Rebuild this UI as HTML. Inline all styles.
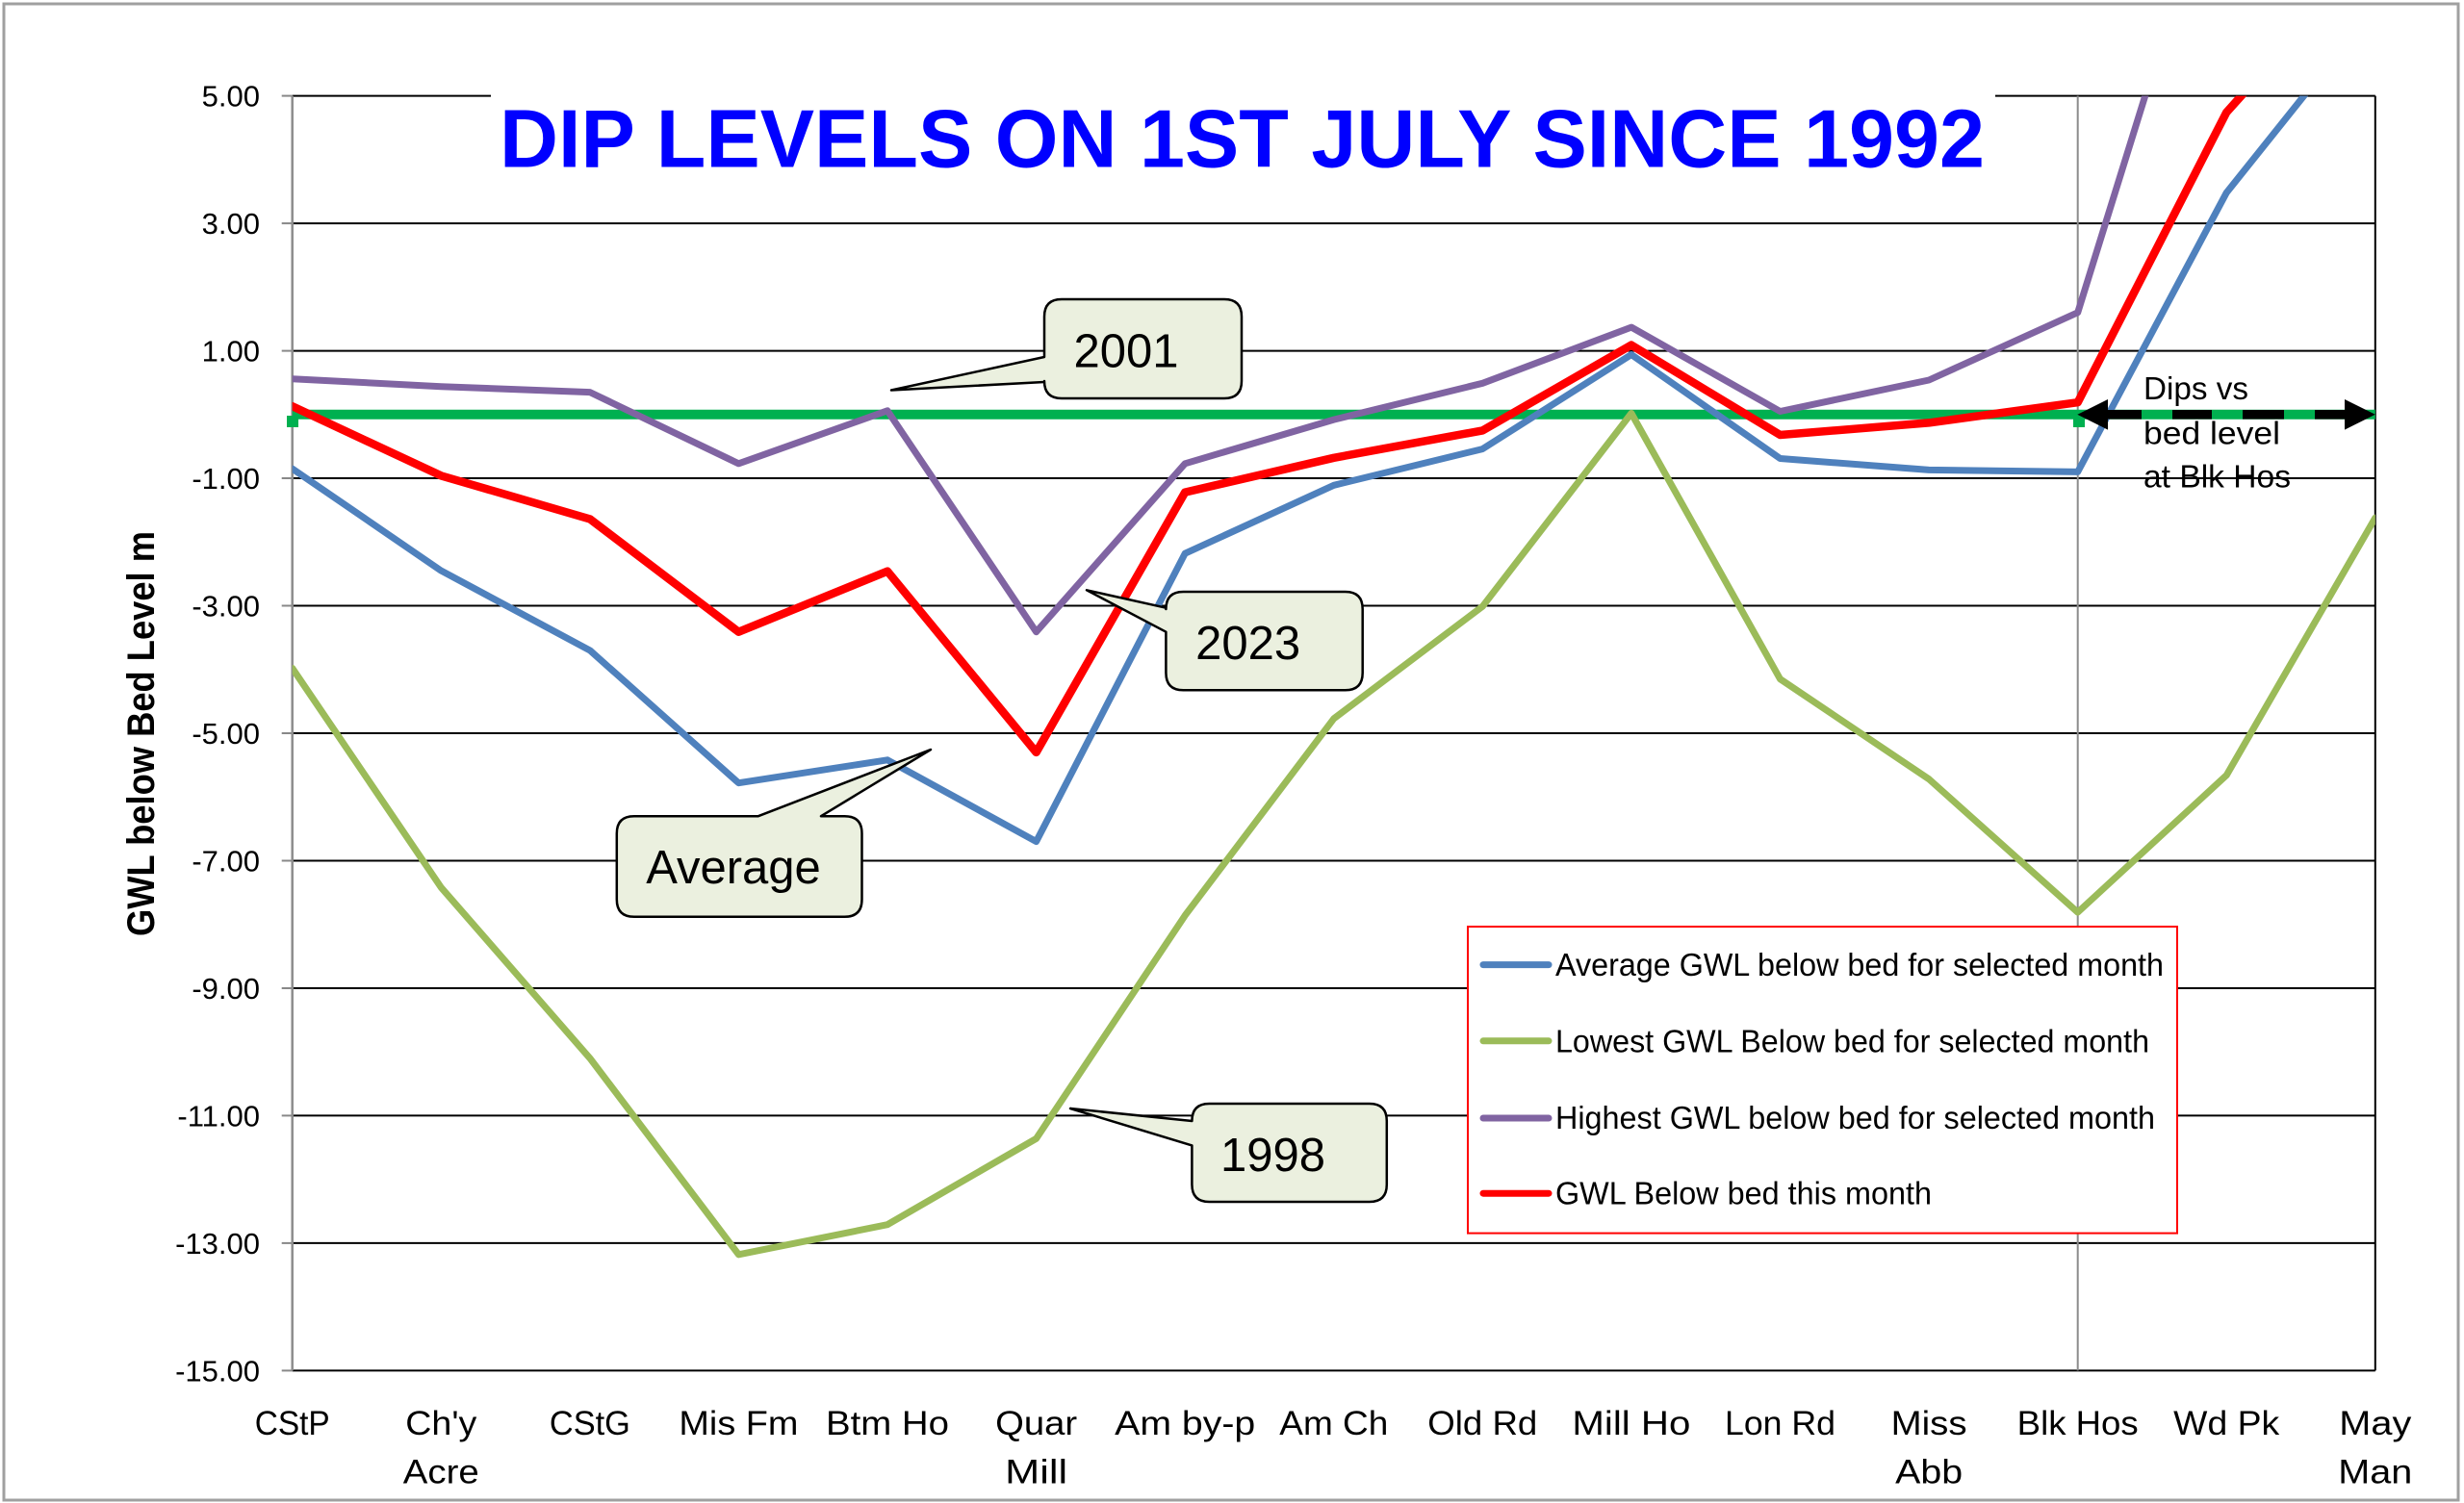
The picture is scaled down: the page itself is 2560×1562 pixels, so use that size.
<!DOCTYPE html>
<html>
<head>
<meta charset="utf-8">
<style>
html,body{margin:0;padding:0;background:#fff;}
svg{display:block;}
text{font-family:"Liberation Sans",Arial,sans-serif;}
</style>
</head>
<body>
<svg width="2560" height="1562" viewBox="0 0 2560 1562" xmlns="http://www.w3.org/2000/svg">
<defs>
<clipPath id="plot"><rect x="303.7" y="99.6" width="2164.1" height="1324.8"/></clipPath>
</defs>
<rect x="0" y="0" width="2560" height="1562" fill="#fff"/>
<rect x="4" y="4" width="2550" height="1555" fill="none" stroke="#a0a0a0" stroke-width="3"/>

<!-- gridlines -->
<g stroke="#000" stroke-width="2">
<line x1="303.7" y1="99.6" x2="2467.8" y2="99.6"/>
<line x1="303.7" y1="232.1" x2="2467.8" y2="232.1"/>
<line x1="303.7" y1="364.6" x2="2467.8" y2="364.6"/>
<line x1="303.7" y1="497.0" x2="2467.8" y2="497.0"/>
<line x1="303.7" y1="629.5" x2="2467.8" y2="629.5"/>
<line x1="303.7" y1="762.0" x2="2467.8" y2="762.0"/>
<line x1="303.7" y1="894.5" x2="2467.8" y2="894.5"/>
<line x1="303.7" y1="1027.0" x2="2467.8" y2="1027.0"/>
<line x1="303.7" y1="1159.4" x2="2467.8" y2="1159.4"/>
<line x1="303.7" y1="1291.9" x2="2467.8" y2="1291.9"/>
<line x1="303.7" y1="1424.4" x2="2467.8" y2="1424.4"/>
<line x1="2467.8" y1="99.6" x2="2467.8" y2="1424.4"/>
</g>
<!-- ticks -->
<g stroke="#888" stroke-width="2">
<line x1="292.7" y1="99.6" x2="303.7" y2="99.6"/>
<line x1="292.7" y1="232.1" x2="303.7" y2="232.1"/>
<line x1="292.7" y1="364.6" x2="303.7" y2="364.6"/>
<line x1="292.7" y1="497.0" x2="303.7" y2="497.0"/>
<line x1="292.7" y1="629.5" x2="303.7" y2="629.5"/>
<line x1="292.7" y1="762.0" x2="303.7" y2="762.0"/>
<line x1="292.7" y1="894.5" x2="303.7" y2="894.5"/>
<line x1="292.7" y1="1027.0" x2="303.7" y2="1027.0"/>
<line x1="292.7" y1="1159.4" x2="303.7" y2="1159.4"/>
<line x1="292.7" y1="1291.9" x2="303.7" y2="1291.9"/>
<line x1="292.7" y1="1424.4" x2="303.7" y2="1424.4"/>
</g>
<line x1="2158.7" y1="99.6" x2="2158.7" y2="1424.4" stroke="#8c8c8c" stroke-width="2"/>
<line x1="303.7" y1="99.6" x2="303.7" y2="1424.4" stroke="#8c8c8c" stroke-width="2.5"/>

<!-- bed level line -->
<line x1="303.7" y1="430.8" x2="2467.8" y2="430.8" stroke="#00B050" stroke-width="10"/>

<g clip-path="url(#plot)" fill="none" stroke-linejoin="round" stroke-linecap="round">
<polyline stroke="#4F81BD" stroke-width="7" points="303.7,487.1 458.3,593.1 612.9,675.9 767.4,813.7 922.0,789.8 1076.6,874.6 1231.2,575.2 1385.8,504.3 1540.3,466.6 1694.9,368.5 1849.5,476.5 2004.1,488.4 2158.7,490.4 2313.2,200.3 2467.8,6.9"/>
<polyline stroke="#9BBB59" stroke-width="7" points="303.7,694.4 458.3,922.3 612.9,1099.8 767.4,1303.8 922.0,1272.7 1076.6,1183.3 1231.2,951.4 1385.8,746.8 1540.3,630.2 1694.9,429.5 1849.5,705.7 2004.1,809.7 2158.7,948.1 2313.2,805.7 2467.8,538.1"/>
<polyline stroke="#8064A2" stroke-width="7" points="303.7,393.7 458.3,401.7 612.9,407.6 767.4,481.8 922.0,426.8 1076.6,656.7 1231.2,481.8 1385.8,436.1 1540.3,398.3 1694.9,340.1 1849.5,427.5 2004.1,395.0 2158.7,324.8 2313.2,-172.0 2467.8,-364.1"/>
<polyline stroke="#FF0000" stroke-width="8.5" points="303.7,422.2 458.3,494.4 612.9,539.4 767.4,656.7 922.0,593.7 1076.6,781.9 1231.2,511.6 1385.8,475.8 1540.3,447.4 1694.9,358.6 1849.5,452.0 2004.1,439.4 2158.7,418.2 2313.2,116.8 2467.8,-55.4"/>
</g>

<!-- markers -->
<rect x="298" y="432" width="12" height="12" fill="#00B050"/>
<rect x="2154" y="432" width="12" height="12" fill="#00B050"/>

<!-- arrow -->
<g fill="#000">
<rect x="2189" y="426" width="36" height="9.6"/>
<rect x="2257" y="426" width="41" height="9.6"/>
<rect x="2330" y="426" width="43" height="9.6"/>
<rect x="2405" y="426" width="33" height="9.6"/>
<polygon points="2158.3,430.8 2190,415 2190,446.6"/>
<polygon points="2467.8,430.8 2436,415 2436,446.6"/>
</g>

<!-- title -->
<rect x="510" y="84" width="1563" height="115" fill="#fff"/>
<text x="519" y="173.3" font-size="85" font-weight="bold" fill="#0000FF" textLength="1543" lengthAdjust="spacingAndGlyphs">DIP LEVELS ON 1ST JULY SINCE 1992</text>

<!-- y tick labels -->
<g font-size="31" text-anchor="end" fill="#000">
<text x="270" y="110.6">5.00</text>
<text x="270" y="243.1">3.00</text>
<text x="270" y="375.6">1.00</text>
<text x="270" y="508.0">-1.00</text>
<text x="270" y="640.5">-3.00</text>
<text x="270" y="773.0">-5.00</text>
<text x="270" y="905.5">-7.00</text>
<text x="270" y="1038.0">-9.00</text>
<text x="270" y="1170.4">-11.00</text>
<text x="270" y="1302.9">-13.00</text>
<text x="270" y="1435.4">-15.00</text>
</g>

<!-- y axis title -->
<text transform="translate(160,762.5) rotate(-90)" text-anchor="middle" font-size="40" font-weight="bold" fill="#000" textLength="421" lengthAdjust="spacingAndGlyphs">GWL below Bed Level m</text>

<!-- x labels -->
<g font-size="35" text-anchor="middle" fill="#000">
<text x="303.7" y="1490.8" textLength="78" lengthAdjust="spacingAndGlyphs">CStP</text>
<text x="458.3" y="1490.8" textLength="74" lengthAdjust="spacingAndGlyphs">Ch'y</text>
<text x="458.3" y="1541.6" textLength="79" lengthAdjust="spacingAndGlyphs">Acre</text>
<text x="612.9" y="1490.8" textLength="84" lengthAdjust="spacingAndGlyphs">CStG</text>
<text x="767.4" y="1490.8" textLength="124" lengthAdjust="spacingAndGlyphs">Mis Fm</text>
<text x="922.0" y="1490.8" textLength="128" lengthAdjust="spacingAndGlyphs">Btm Ho</text>
<text x="1076.6" y="1490.8" textLength="85" lengthAdjust="spacingAndGlyphs">Quar</text>
<text x="1076.6" y="1541.6" textLength="65" lengthAdjust="spacingAndGlyphs">Mill</text>
<text x="1231.2" y="1490.8" textLength="146" lengthAdjust="spacingAndGlyphs">Am by-p</text>
<text x="1385.8" y="1490.8" textLength="113" lengthAdjust="spacingAndGlyphs">Am Ch</text>
<text x="1540.3" y="1490.8" textLength="114" lengthAdjust="spacingAndGlyphs">Old Rd</text>
<text x="1694.9" y="1490.8" textLength="123" lengthAdjust="spacingAndGlyphs">Mill Ho</text>
<text x="1849.5" y="1490.8" textLength="115" lengthAdjust="spacingAndGlyphs">Lon Rd</text>
<text x="2004.1" y="1490.8" textLength="79" lengthAdjust="spacingAndGlyphs">Miss</text>
<text x="2004.1" y="1541.6" textLength="70" lengthAdjust="spacingAndGlyphs">Abb</text>
<text x="2158.7" y="1490.8" textLength="126" lengthAdjust="spacingAndGlyphs">Blk Hos</text>
<text x="2313.2" y="1490.8" textLength="110" lengthAdjust="spacingAndGlyphs">Wd Pk</text>
<text x="2467.8" y="1490.8" textLength="75" lengthAdjust="spacingAndGlyphs">May</text>
<text x="2467.8" y="1541.6" textLength="77" lengthAdjust="spacingAndGlyphs">Man</text>
</g>

<!-- Dips text -->
<g font-size="33" fill="#000">
<text x="2227" y="415" textLength="109" lengthAdjust="spacingAndGlyphs">Dips vs</text>
<text x="2227" y="461.7" textLength="142" lengthAdjust="spacingAndGlyphs">bed level</text>
<text x="2227" y="506.7" textLength="153" lengthAdjust="spacingAndGlyphs">at Blk Hos</text>
</g>

<!-- callouts -->
<g fill="#EBF0DF" stroke="#000" stroke-width="2.5" stroke-linejoin="round">
<path d="M1103,311 H1272 Q1290,311 1290,329 V396 Q1290,414 1272,414 H1103 Q1085,414 1085,396 V397 L926,405.5 L1085,371 V329 Q1085,311 1103,311 Z"/>
<path d="M1229.4,615 H1397.7 Q1415.7,615 1415.7,633 V699.3 Q1415.7,717.3 1397.7,717.3 H1229.4 Q1211.4,717.3 1211.4,699.3 V656.7 L1129,613.3 L1211.4,631.7 V633 Q1211.4,615 1229.4,615 Z"/>
<path d="M658.8,848.2 H787.8 L967,779 L853,848.2 H877.5 Q895.5,848.2 895.5,866.2 V934.8 Q895.5,952.8 877.5,952.8 H658.8 Q640.8,952.8 640.8,934.8 V866.2 Q640.8,848.2 658.8,848.2 Z"/>
<path d="M1256.4,1147 H1422.8 Q1440.8,1147 1440.8,1165 V1231 Q1440.8,1249 1422.8,1249 H1256.4 Q1238.4,1249 1238.4,1231 V1190.4 L1112,1152 L1238.4,1165 Q1238.4,1147 1256.4,1147 Z"/>
</g>
<g font-size="49" fill="#000" text-anchor="middle">
<text x="1170" y="381.7">2001</text>
<text x="1296.6" y="685">2023</text>
<text x="762" y="918">Average</text>
<text x="1322.5" y="1216.8">1998</text>
</g>

<!-- legend -->
<rect x="1525" y="963" width="737" height="318.6" fill="#fff" stroke="#FF0000" stroke-width="2"/>
<g stroke-width="7" stroke-linecap="round">
<line x1="1541" y1="1002.6" x2="1609" y2="1002.6" stroke="#4F81BD"/>
<line x1="1541" y1="1081.8" x2="1609" y2="1081.8" stroke="#9BBB59"/>
<line x1="1541" y1="1162" x2="1609" y2="1162" stroke="#8064A2"/>
<line x1="1541" y1="1240.2" x2="1609" y2="1240.2" stroke="#FF0000"/>
</g>
<g font-size="33" fill="#000">
<text x="1616" y="1014" textLength="632" lengthAdjust="spacingAndGlyphs">Average GWL below bed for selected month</text>
<text x="1616" y="1093.3" textLength="617" lengthAdjust="spacingAndGlyphs">Lowest GWL Below bed for selected month</text>
<text x="1616" y="1173" textLength="623" lengthAdjust="spacingAndGlyphs">Highest GWL below bed for selected month</text>
<text x="1616" y="1251.7" textLength="391" lengthAdjust="spacingAndGlyphs">GWL Below bed this month</text>
</g>
</svg>
</body>
</html>
